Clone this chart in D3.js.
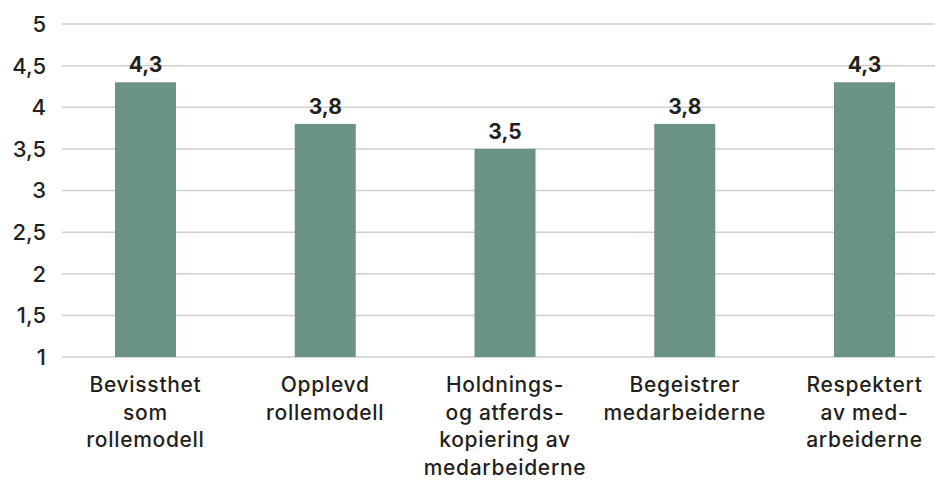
<!DOCTYPE html>
<html>
<head>
<meta charset="utf-8">
<script src="https://cdn.jsdelivr.net/npm/d3@7"></script>
<style>
  html, body { margin: 0; padding: 0; background: #fff; }
  svg { display: block; font-family: Inter, "Liberation Sans", Arial, sans-serif; }
</style>
</head>
<body>
<svg id="chart" width="935" height="480"></svg>
<script>
// Category labels, each split into its printed lines
const categories = [
  ["Bevissthet", "som", "rollemodell"],
  ["Opplevd", "rollemodell"],
  ["Holdnings-", "og atferds-", "kopiering av", "medarbeiderne"],
  ["Begeistrer", "medarbeiderne"],
  ["Respektert", "av med-", "arbeiderne"]
];
const values = [4.3, 3.8, 3.5, 3.8, 4.3];
const yTicks = [1, 1.5, 2, 2.5, 3, 3.5, 4, 4.5, 5];

const fmt = v => String(v).replace(".", ",");

const svg = d3.select("#chart");
const textColor = "#231f20";

const x = d3.scaleBand()
  .domain(d3.range(values.length))
  .range([55.6, 954.4])
  .paddingInner(0.66)
  .paddingOuter(0.33);

const y = d3.scaleLinear().domain([1, 5]).range([357, 24]);

const gridLeft = 62, gridRight = 935;

// Horizontal gridlines
svg.append("g")
  .selectAll("line")
  .data(yTicks)
  .join("line")
  .attr("x1", gridLeft).attr("x2", gridRight)
  .attr("y1", d => y(d)).attr("y2", d => y(d))
  .attr("stroke", "#cfcfcf")
  .attr("stroke-width", 1.5);

// Y axis labels
svg.append("g")
  .selectAll("text")
  .data(yTicks)
  .join("text")
  .attr("x", 46)
  .attr("y", d => y(d))
  .attr("dy", "0.36em")
  .attr("text-anchor", "end")
  .attr("font-size", 22)
  .attr("font-weight", 500)
  .attr("fill", textColor)
  .text(d => fmt(d));

// Bars
const bw = 61;
svg.append("g")
  .selectAll("rect")
  .data(values)
  .join("rect")
  .attr("x", (d, i) => x(i) + x.bandwidth() / 2 - bw / 2)
  .attr("width", bw)
  .attr("y", d => y(d))
  .attr("height", d => y(1) - y(d))
  .attr("fill", "#6a9384");

// Value labels
svg.append("g")
  .selectAll("text")
  .data(values)
  .join("text")
  .attr("x", (d, i) => x(i) + x.bandwidth() / 2)
  .attr("y", d => y(d) - 10)
  .attr("text-anchor", "middle")
  .attr("font-size", 21)
  .attr("font-weight", "bold")
  .attr("fill", textColor)
  .text(d => fmt(d));

// Category labels
const catG = svg.append("g")
  .selectAll("text")
  .data(categories)
  .join("text")
  .attr("text-anchor", "middle")
  .attr("font-size", 21)
  .attr("font-weight", 500)
  .attr("letter-spacing", 0.7)
  .attr("fill", textColor);

catG.selectAll("tspan")
  .data((d, i) => d.map(line => ({ line, i })))
  .join("tspan")
  .attr("x", d => x(d.i) + x.bandwidth() / 2)
  .attr("y", (d, j) => 392 + j * 27.5)
  .text(d => d.line);
</script>
</body>
</html>
